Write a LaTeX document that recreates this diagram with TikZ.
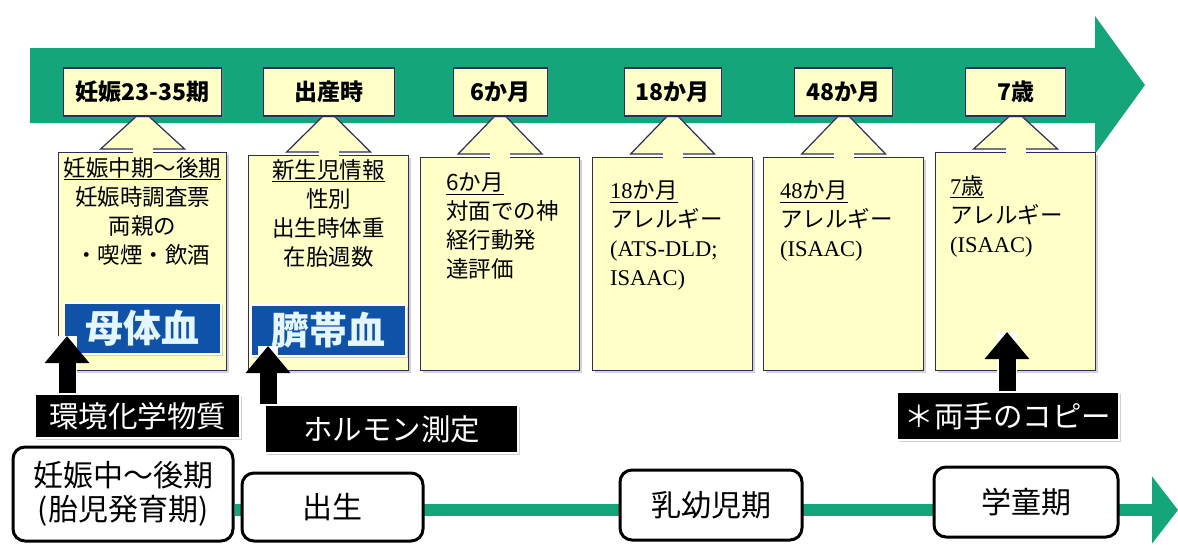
\documentclass[tikz,border=0pt]{standalone}
\usepackage{fontspec}
\newfontfamily\jp{Noto Sans CJK JP}
\newfontfamily\lser{Liberation Serif}
\usetikzlibrary{arrows.meta,shadows,calc}
\definecolor{tgreen}{RGB}{20,166,122}
\definecolor{pyellow}{RGB}{255,255,200}
\definecolor{navy}{RGB}{45,45,90}
\definecolor{bblue}{RGB}{16,82,168}
\definecolor{paleblue}{RGB}{228,246,255}
\pgfdeclarelayer{back}
\pgfdeclarelayer{mid}
\pgfsetlayers{back,mid,main}
\tikzset{
  shad/.style={drop shadow={shadow xshift=2pt,shadow yshift=-2pt,opacity=0.35,fill=navy!60}},
  cbox/.style={draw=navy,line width=1.2pt,fill=pyellow,anchor=north west,inner sep=0pt,shad},
  lab/.style={draw=navy,line width=1.2pt,fill=pyellow,inner sep=0pt,shad,
    font=\jp\bfseries\fontsize{23}{26}\selectfont},
  tri/.style={fill=pyellow,draw=navy,line width=1.2pt},
  txt/.style={inner sep=0pt,font=\jp\fontsize{22.5}{29}\selectfont},
  blu/.style={fill=bblue,draw=white,line width=2pt,text=paleblue,inner sep=0pt,shad,
    font=\jp\bfseries\fontsize{38}{40}\selectfont},
  bbox/.style={fill=black,draw=white,line width=1.5pt,text=white,inner sep=0pt,
    drop shadow={shadow xshift=2pt,shadow yshift=-2pt,opacity=0.3,fill=black!60},
    font=\jp\fontsize{29.5}{32}\selectfont},
  rbox/.style={draw=black,line width=3pt,rounded corners=12pt,fill=white,inner sep=0pt,
    align=center,font=\jp\fontsize{30}{34}\selectfont},
  blkarrow/.style={line width=17pt,-{Triangle[width=43pt,length=27pt]},black,
    preaction={draw=white,line width=20pt,-}},
}
\begin{document}
\begin{tikzpicture}[x=1pt,y=-1pt]
\useasboundingbox (0,0) rectangle (1178,544);

% content boxes
\node[cbox,minimum width=168pt,minimum height=218pt] (b1) at (58,152) {};
\node[cbox,minimum width=160pt,minimum height=215pt] (b2) at (248,155) {};
\node[cbox,minimum width=159pt,minimum height=213pt] (b3) at (420,157) {};
\node[cbox,minimum width=160pt,minimum height=213pt] (b4) at (592,157) {};
\node[cbox,minimum width=160pt,minimum height=213pt] (b5) at (763,157) {};
\node[cbox,minimum width=160pt,minimum height=218pt] (b6) at (935,152) {};

% time labels
\node[lab,minimum width=158pt,minimum height=48pt] (l1) at (b1.north |- 0,92) {妊娠23-35期};
\node[lab,minimum width=131pt,minimum height=48pt] (l2) at (b2.north |- 0,92) {出産時};
\node[lab,minimum width=94pt,minimum height=48pt] (l3) at (b3.north |- 0,92) {6か月};
\node[lab,minimum width=97pt,minimum height=48pt] (l4) at (b4.north |- 0,92) {18か月};
\node[lab,minimum width=98pt,minimum height=48pt] (l5) at (b5.north |- 0,92) {48か月};
\node[lab,minimum width=100pt,minimum height=48pt] (l6) at (b6.north |- 0,92) {7歳};

% pointers from boxes to labels
\foreach \b/\l in {b1/l1,b2/l2,b3/l3,b4/l4,b5/l5,b6/l6}{
  \begin{pgfonlayer}{mid}
    \path[tri] ($(\l.south)+(0,-6)$) -- ($(\b.north)+(-42,-3)$) -- ($(\b.north)+(42,-3)$) -- cycle;
  \end{pgfonlayer}
  \fill[pyellow] ($(\b.north)+(-10,-4.5)$) rectangle ($(\b.north)+(10,1.5)$);
}

% box texts
\node[txt,anchor=north,align=center] (t1) at ($(b1.north)+(0,5)$)
  {\underline{妊娠中期～後期}\\妊娠時調査票\\両親の\\・喫煙・飲酒};
\node[txt,anchor=north,align=center] (t2) at ($(b2.north)+(0,4)$)
  {\underline{新生児情報}\\性別\\出生時体重\\在胎週数};
\node[txt,anchor=north west,align=left] (t3) at (446,173)
  {\underline{6か月}\\対面での神\\経行動発\\達評価};
\node[txt,anchor=north west,align=left] (t4) at (610,181)
  {\underline{{\lser 18}か月}\\アレルギー\\{\lser (ATS-DLD;}\\{\lser ISAAC)}};
\node[txt,anchor=north west,align=left] (t5) at (780,181)
  {\underline{{\lser 48}か月}\\アレルギー\\{\lser (ISAAC)}};
\node[txt,anchor=north west,align=left] (t6) at (950,175)
  {\underline{{\lser 7}歳}\\アレルギー\\{\lser (ISAAC)}};

% blood sample boxes
\node[blu,minimum width=157pt,minimum height=51pt] (m1) at (142,328) {母体血};
\node[blu,minimum width=155pt,minimum height=51pt] (m2) at (328,330) {臍帯血};

% black measurement boxes
\node[bbox,minimum width=205pt,minimum height=44pt] (env) at (137.5,416) {環境化学物質};
\node[bbox,minimum width=253pt,minimum height=48pt] (horm) at (391.5,429) {ホルモン測定};
\node[bbox,minimum width=222pt,minimum height=48pt] (copy) at (1008,416) {＊両手のコピー};

% black arrows
\coordinate (a1) at (67,336);
\coordinate (a2) at (268,346);
\coordinate (a3) at (1007,332);
\draw[blkarrow] (env.north -| a1) -- (a1);
\draw[blkarrow] (horm.north -| a2) -- (a2);
\draw[blkarrow] (copy.north -| a3) -- (a3);

% bottom period boxes
\node[rbox,minimum width=220pt,minimum height=94pt] (pre) at (123,494) {妊娠中～後期\\(胎児発育期)};
\node[rbox,minimum width=181pt,minimum height=68pt] (birth) at (332.5,507) {出生};
\node[rbox,minimum width=182pt,minimum height=70pt] (infant) at (711,505) {乳幼児期};
\node[rbox,minimum width=184pt,minimum height=70pt] (school) at (1026,502) {学童期};

% background: white page, big green arrow and timeline
\coordinate (tend) at (1178,510);
\begin{pgfonlayer}{back}
  \fill[white] (0,0) rectangle (1178,544);
  \fill[tgreen] (30,48) -- (1095,48) -- (1095,16) -- (1145,85) -- (1095,154) -- (1095,123) -- (30,123) -- cycle;
  \draw[tgreen,line width=12pt,-{Triangle[width=66pt,length=26pt]}] (pre.east |- tend) -- (tend);
\end{pgfonlayer}
\end{tikzpicture}
\end{document}
